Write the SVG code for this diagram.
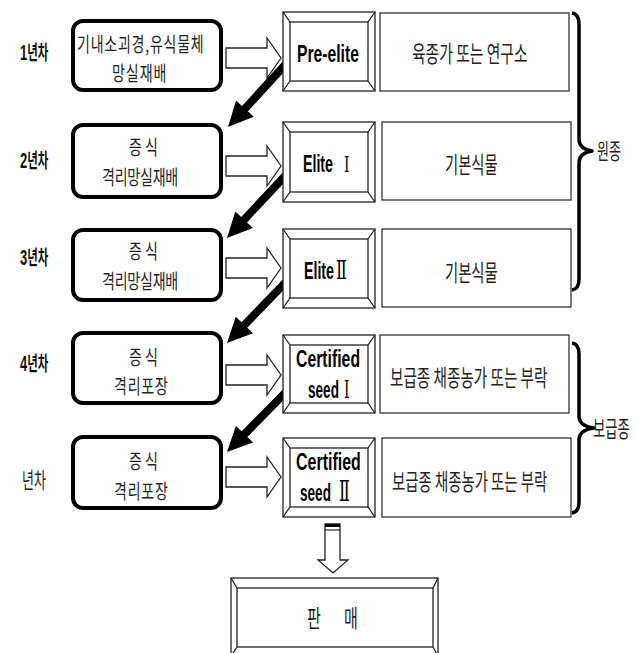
<svg xmlns="http://www.w3.org/2000/svg" xmlns:xlink="http://www.w3.org/1999/xlink" width="637" height="653" viewBox="0 0 637 653">
<style>
.rb{fill:#fff;stroke:#000;stroke-width:4}
.bv{fill:#fff;stroke:#222;stroke-width:1.3}
.ds{fill:#fff;stroke:#333;stroke-width:1.3}
.kr{font-family:"Noto Sans CJK KR","Noto Sans CJK SC",sans-serif;fill:#222}
.bx{font-family:"Noto Sans CJK KR","Noto Sans CJK SC",sans-serif;fill:#222;font-size:14px}
.yr{font-family:"Noto Sans CJK KR","Noto Sans CJK SC",sans-serif;font-weight:bold;fill:#111}
.dg{font-family:"Liberation Sans",Arial,sans-serif;font-weight:bold;fill:#111}
.en{font-family:"Liberation Sans",Arial,sans-serif;font-weight:bold;fill:#000}
.rn{font-family:"DejaVu Serif","Noto Sans CJK KR",serif;font-weight:normal;fill:#000}
.brace{fill:none;stroke:#000;stroke-width:3.5;stroke-linejoin:round}
.ha{fill:#fff;stroke:#222;stroke-width:1.3}
.ba{fill:#000}
</style>
<defs>
<path id="hollow" d="M0,-10 H41 V-20 L55,0 L41,20 V10 H0 Z"/>
<polygon id="black" points="0,0 25,-12 25,-4 88,-4 88,4 25,4 25,12"/>
</defs>

<g id="connectors">
<use xlink:href="#hollow" href="#hollow" class="ha" transform="translate(226,58)"/>
<use xlink:href="#hollow" href="#hollow" class="ha" transform="translate(226,166)"/>
<use xlink:href="#hollow" href="#hollow" class="ha" transform="translate(226,268)"/>
<use xlink:href="#hollow" href="#hollow" class="ha" transform="translate(226,375)"/>
<use xlink:href="#hollow" href="#hollow" class="ha" transform="translate(226,477)"/>
<use xlink:href="#black" href="#black" class="ba" transform="translate(228,127) rotate(-47.4)"/>
<use xlink:href="#black" href="#black" class="ba" transform="translate(227,238) rotate(-46.9)"/>
<use xlink:href="#black" href="#black" class="ba" transform="translate(227,343) rotate(-46)"/>
<use xlink:href="#black" href="#black" class="ba" transform="translate(227,452) rotate(-45.5)"/>
<path class="ha" d="M325,524 H340 V560 H348 L333,573 L318,560 H325 Z"/>
<line x1="325" y1="525.5" x2="340" y2="525.5" stroke="#000" stroke-width="3"/>
<line x1="325" y1="530" x2="340" y2="530" stroke="#000" stroke-width="1"/>
</g>

<g id="year-labels">
<text transform="translate(20,60) scale(1,1.75)"><tspan class="dg" font-size="13">1</tspan><tspan class="yr" font-size="11.5">년차</tspan></text>
<text transform="translate(20,168) scale(1,1.75)"><tspan class="dg" font-size="13">2</tspan><tspan class="yr" font-size="11.5">년차</tspan></text>
<text transform="translate(20,265) scale(1,1.75)"><tspan class="dg" font-size="13">3</tspan><tspan class="yr" font-size="11.5">년차</tspan></text>
<text transform="translate(20,371) scale(1,1.75)"><tspan class="dg" font-size="13">4</tspan><tspan class="yr" font-size="11.5">년차</tspan></text>
<text class="kr" font-size="13" transform="translate(22,488) scale(1,1.65)">년차</text>
</g>

<g id="step1">
<rect class="rb" x="73" y="21" width="148" height="69" rx="10"/>
<text class="bx" transform="translate(0,51.7) scale(1,1.45)"><tspan x="77" y="0" letter-spacing="0.78">기내소괴경,유식물체</tspan><tspan x="112" y="20.41" letter-spacing="1">망실재배</tspan></text>
</g>
<g id="step2">
<rect class="rb" x="73" y="125" width="148" height="72" rx="10"/>
<text class="bx" transform="translate(0,155.2) scale(1,1.45)"><tspan x="129" y="0">증 식</tspan><tspan x="102" y="20.41" letter-spacing="-0.2">격리망실재배</tspan></text>
</g>
<g id="step3">
<rect class="rb" x="73" y="230" width="148" height="70" rx="10"/>
<text class="bx" transform="translate(0,259.2) scale(1,1.45)"><tspan x="129" y="0">증 식</tspan><tspan x="102" y="20.41" letter-spacing="-0.2">격리망실재배</tspan></text>
</g>
<g id="step4">
<rect class="rb" x="73" y="333" width="148" height="70" rx="10"/>
<text class="bx" transform="translate(0,364.7) scale(1,1.45)"><tspan x="129" y="0">증 식</tspan><tspan x="114" y="20.41" letter-spacing="0.8">격리포장</tspan></text>
</g>
<g id="step5">
<rect class="rb" x="73" y="437" width="148" height="71" rx="10"/>
<text class="bx" transform="translate(0,469) scale(1,1.45)"><tspan x="129" y="0">증 식</tspan><tspan x="114" y="20.69" letter-spacing="0.8">격리포장</tspan></text>
</g>

<g id="pre-elite">
<rect class="bv" x="283" y="12" width="92" height="79"/>
<rect class="bv" x="290" y="22" width="78" height="59"/>
<path class="bv" d="M283,12 L290,22 M375,12 L368,22 M283,91 L290,81 M375,91 L368,81"/>
<text class="en" font-size="15.7" transform="translate(297,62) scale(1,1.53)">Pre-elite</text>
</g>
<g id="elite1">
<rect class="bv" x="283" y="122" width="92" height="80"/>
<rect class="bv" x="290" y="132" width="78" height="60"/>
<path class="bv" d="M283,122 L290,132 M375,122 L368,132 M283,202 L290,192 M375,202 L368,192"/>
<text transform="translate(303,172) scale(1,1.65)"><tspan class="en" font-size="14.2">Elite</tspan> <tspan class="rn" font-size="14" x="41">Ⅰ</tspan></text>
</g>
<g id="elite2">
<rect class="bv" x="283" y="229" width="92" height="79"/>
<rect class="bv" x="290" y="239" width="78" height="59"/>
<path class="bv" d="M283,229 L290,239 M375,229 L368,239 M283,308 L290,298 M375,308 L368,298"/>
<text transform="translate(304,279) scale(1,1.65)"><tspan class="en" font-size="14.2">Elite</tspan><tspan class="rn" font-size="16" x="32">Ⅱ</tspan></text>
</g>
<g id="certified1">
<rect class="bv" x="283" y="335" width="92" height="78"/>
<rect class="bv" x="290" y="345" width="78" height="58"/>
<path class="bv" d="M283,335 L290,345 M375,335 L368,345 M283,413 L290,403 M375,413 L368,403"/>
<text class="en" font-size="15.8" transform="translate(296,367) scale(1,1.52)">Certified</text>
<text transform="translate(308,398) scale(1,1.7)"><tspan class="en" font-size="13.6">seed</tspan> <tspan class="rn" font-size="14" x="36">Ⅰ</tspan></text>
</g>
<g id="certified2">
<rect class="bv" x="283" y="438" width="92" height="79"/>
<rect class="bv" x="290" y="448" width="78" height="59"/>
<path class="bv" d="M283,438 L290,448 M375,438 L368,448 M283,517 L290,507 M375,517 L368,507"/>
<text class="en" font-size="16" transform="translate(296,470) scale(1,1.5)">Certified</text>
<text transform="translate(300,501) scale(1,1.7)"><tspan class="en" font-size="13.6">seed</tspan> <tspan class="rn" font-size="16" x="39">Ⅱ</tspan></text>
</g>

<g id="desc1">
<rect class="ds" x="380" y="13" width="189" height="78"/>
<text class="kr" font-size="14.8" transform="translate(412,62) scale(1,1.55)">육종가 또는 연구소</text>
</g>
<g id="desc2">
<rect class="ds" x="382" y="122" width="189" height="78"/>
<text class="kr" font-size="14.3" transform="translate(445,173) scale(1,1.6)">기본식물</text>
</g>
<g id="desc3">
<rect class="ds" x="382" y="229" width="189" height="78"/>
<text class="kr" font-size="14.3" transform="translate(445,281) scale(1,1.6)">기본식물</text>
</g>
<g id="desc4">
<rect class="ds" x="380" y="335" width="189" height="78"/>
<text class="kr" font-size="14.6" transform="translate(390,386) scale(1,1.55)">보급종 채종농가 또는 부락</text>
</g>
<g id="desc5">
<rect class="ds" x="382" y="438" width="189" height="79"/>
<text class="kr" font-size="14.4" transform="translate(392,490) scale(1,1.57)">보급종 채종농가 또는 부락</text>
</g>

<g id="group-wonjong">
<path class="brace" d="M572,13 Q579,14 579,24 L579,139 Q579,149 592,151 Q579,153 579,163 L579,279 Q579,289 572,290"/>
<text class="kr" font-size="13" transform="translate(597,159) scale(1,1.7)">원종</text>
</g>
<g id="group-bogeupjong">
<path class="brace" d="M572,343 Q579,344 579,354 L579,416 Q579,426 594,428 Q579,430 579,440 L579,502 Q579,512 572,513"/>
<text class="kr" font-size="13.3" transform="translate(593,437) scale(1,1.7)">보급종</text>
</g>

<g id="sale">
<rect class="bv" x="231" y="578" width="207" height="78"/>
<rect class="bv" x="237" y="588" width="196" height="59"/>
<path class="bv" d="M231,578 L237,588 M438,578 L433,588 M231,656 L237,647 M438,656 L433,647"/>
<text class="kr" font-size="15" transform="translate(307,627) scale(1,1.6)">판<tspan x="37">매</tspan></text>
</g>
</svg>
